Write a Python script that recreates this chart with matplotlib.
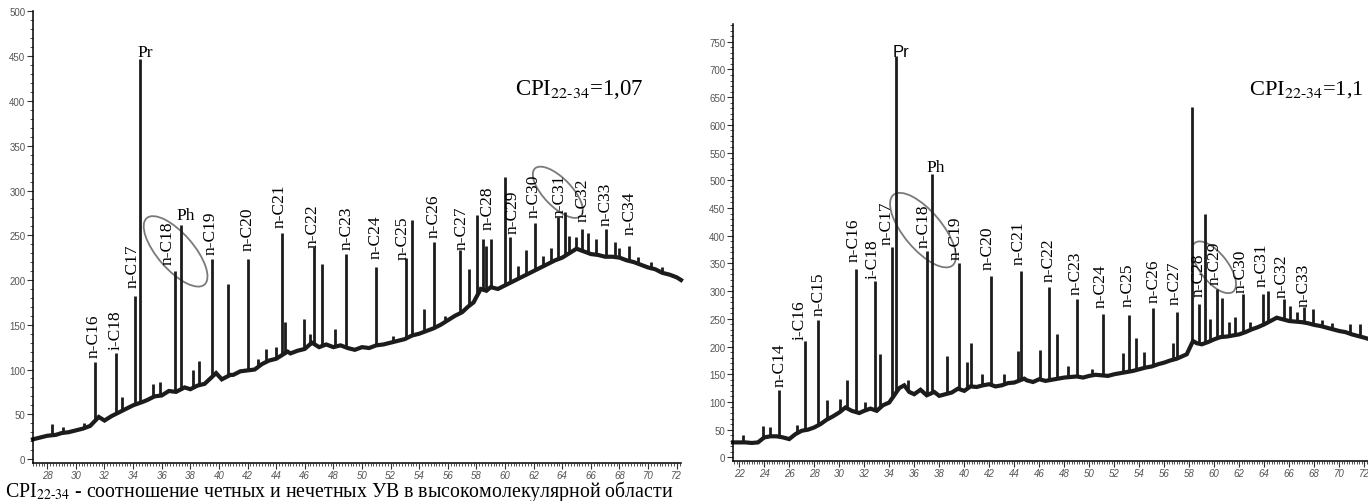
import matplotlib
matplotlib.use("Agg")
import matplotlib.pyplot as plt
import numpy as np
from matplotlib.patches import Ellipse
from matplotlib.transforms import ScaledTranslation
from matplotlib.ticker import MultipleLocator

# ---------------- left chromatogram ----------------
base1_x = [27.0, 27.5, 28.0, 28.6, 29.0, 29.5, 30.0, 30.5, 31.0, 31.6, 32.0, 32.5, 33.0, 33.5,
           34.0, 34.7, 35.0, 35.5, 36.0, 36.5, 37.0, 37.6, 38.0, 38.5, 39.0, 39.8, 40.2, 40.8,
           41.0, 41.5, 42.0, 42.5, 43.0, 43.5, 44.0, 44.8, 45.0, 45.5, 46.0, 46.5, 47.0, 47.5,
           48.0, 48.5, 49.0, 49.5, 50.0, 50.5, 51.0, 51.5, 52.0, 52.5, 53.0, 53.5, 54.0, 54.5,
           55.0, 55.5, 56.0, 56.5, 57.0, 57.4, 57.8, 58.3, 58.7, 59.0, 59.5, 60.0, 60.5, 61.0,
           61.5, 62.0, 62.5, 63.0, 63.5, 64.0, 64.5, 65.0, 65.5, 66.0, 66.5, 67.0, 67.5, 68.0,
           68.5, 69.0, 69.5, 70.0, 70.5, 71.0, 71.5, 72.0, 72.3]
base1_y = [22, 24, 26, 27, 29, 30, 32, 34, 37, 47, 43, 48, 52, 56, 60, 64, 66, 70, 71, 76, 75,
           80, 78, 82, 84, 96, 89, 94, 94, 98, 99, 100, 106, 110, 112, 120, 118, 121, 123, 130,
           125, 128, 125, 127, 124, 122, 125, 124, 127, 128, 130, 132, 134, 138, 140, 143, 146,
           150, 155, 160, 164, 170, 175, 190, 188, 192, 190, 194, 198, 202, 206, 210, 214, 218,
           222, 225, 230, 235, 232, 229, 228, 226, 226, 225, 222, 220, 217, 214, 212, 208, 206,
           203, 200]

peak1_x = [28.35, 29.1, 30.6, 31.36, 32.8, 33.2, 34.15, 34.48, 35.4, 35.9, 36.9, 37.32, 38.2,
           38.6, 39.54, 40.6, 42.03, 42.7, 43.3, 44.0, 44.43, 44.6, 45.92, 46.35, 46.64, 47.23,
           48.1, 48.9, 50.96, 52.2, 53.06, 53.5, 54.34, 55.01, 55.8, 56.83, 57.5, 58.06, 58.46,
           58.67, 59.05, 59.98, 60.38, 60.9, 61.5, 62.1, 62.64, 63.2, 63.7, 64.17, 64.5, 64.98,
           65.39, 65.8, 66.38, 67.04, 67.68, 68.0, 68.67, 69.3, 70.2, 71.0]
peak1_h = [39, 36, 40, 108, 118, 69, 182, 447, 84, 86, 210, 261, 100, 109, 223, 195, 224, 112,
           123, 125, 252, 153, 156, 140, 237, 218, 145, 229, 214, 138, 225, 267, 168, 242, 160,
           233, 212, 273, 246, 238, 246, 315, 248, 216, 233, 264, 227, 236, 270, 276, 249, 248,
           257, 253, 246, 257, 242, 236, 238, 226, 220, 214]

lab1_text = ["n-C16", "i-C18", "n-C17", "n-C18", "n-C19", "n-C20", "n-C21", "n-C22", "n-C23",
             "n-C24", "n-C25", "n-C26", "n-C27", "n-C28", "n-C29", "n-C30", "n-C31", "n-C32",
             "n-C33", "n-C34"]
lab1_x = [31.25, 32.75, 33.99, 36.43, 39.4, 42.03, 44.24, 46.57, 48.9, 50.98, 52.87, 54.97,
          56.95, 58.81, 60.56, 62.0, 63.83, 65.42, 67.04, 68.72]
lab1_y = [114, 123, 192, 218, 229, 233, 259, 237, 235, 225, 223, 248, 235, 257, 253, 270, 270,
          266, 261, 251]

# ---------------- right chromatogram ----------------
base2_x = [21.5, 22.0, 22.5, 23.0, 23.5, 24.0, 24.5, 25.0, 25.5, 26.0, 26.5, 27.0, 27.5, 28.0,
           28.5, 29.0, 29.5, 30.0, 30.5, 31.0, 31.6, 32.0, 32.5, 33.0, 33.5, 34.0, 34.8, 35.2,
           35.6, 36.0, 36.5, 37.0, 37.6, 38.0, 38.5, 39.0, 39.5, 40.0, 40.5, 41.0, 41.5, 42.0,
           42.5, 43.0, 43.5, 44.0, 44.8, 45.0, 45.5, 46.0, 46.5, 47.0, 47.5, 48.0, 48.5, 49.0,
           49.5, 50.0, 50.5, 51.0, 51.5, 52.0, 52.5, 53.0, 53.5, 54.0, 54.5, 55.0, 55.5, 56.0,
           56.5, 57.0, 57.5, 57.8, 58.3, 58.6, 59.0, 59.5, 60.0, 60.5, 61.0, 61.5, 62.0, 62.5,
           63.0, 63.5, 64.0, 64.5, 65.0, 65.5, 66.0, 66.5, 67.0, 67.5, 68.0, 68.5, 69.0, 69.5,
           70.0, 70.5, 71.0, 71.5, 72.0, 72.3]
base2_y = [27, 27, 27, 26, 27, 36, 38, 38, 36, 33, 42, 48, 50, 54, 60, 68, 74, 81, 90, 84, 80,
           84, 88, 84, 94, 99, 125, 130, 118, 114, 122, 112, 118, 111, 114, 117, 124, 120, 128,
           127, 130, 132, 128, 130, 134, 135, 142, 139, 136, 141, 138, 140, 142, 144, 145, 146,
           144, 147, 149, 148, 147, 150, 152, 154, 156, 159, 162, 164, 168, 171, 175, 178, 183,
           186, 210, 206, 204, 208, 213, 217, 218, 220, 222, 226, 231, 235, 240, 246, 252, 249,
           246, 245, 244, 242, 239, 237, 234, 231, 228, 226, 222, 219, 216, 214]

peak2_x = [22.3, 23.87, 24.46, 25.15, 26.6, 27.26, 28.32, 29.0, 30.1, 30.6, 31.31, 32.1, 32.86,
           33.26, 34.24, 34.51, 35.5, 36.99, 37.39, 38.6, 39.6, 40.2, 40.54, 41.4, 42.14, 43.2,
           44.3, 44.51, 46.06, 46.8, 47.39, 48.3, 49.04, 50.2, 51.12, 52.72, 53.15, 53.71, 54.38,
           55.12, 56.7, 56.99, 58.24, 58.8, 59.26, 59.7, 60.19, 60.59, 61.2, 61.66, 62.27, 62.9,
           63.93, 64.33, 65.58, 66.06, 66.6, 67.18, 67.87, 68.6, 69.4, 70.86, 71.66]
peak2_h = [40, 56, 55, 122, 58, 210, 248, 103, 105, 139, 340, 100, 319, 186, 379, 724, 140, 373,
           511, 183, 351, 172, 206, 150, 328, 150, 192, 337, 194, 308, 222, 165, 286, 160, 259,
           188, 257, 215, 190, 269, 207, 262, 632, 277, 439, 250, 304, 287, 245, 253, 295, 245,
           295, 301, 286, 274, 262, 271, 268, 248, 242, 241, 241]

lab2_text = ["n-C14", "i-C16", "n-C15", "n-C16", "i-C18", "n-C17", "n-C18", "n-C19", "n-C20",
             "n-C21", "n-C22", "n-C23", "n-C24", "n-C25", "n-C26", "n-C27", "n-C28", "n-C29",
             "n-C30", "n-C31", "n-C32", "n-C33"]
lab2_x = [25.2, 26.86, 28.32, 31.12, 32.67, 33.79, 36.72, 39.34, 41.9, 44.32, 46.72, 48.94,
          50.91, 53.04, 55.12, 56.86, 58.72, 60.06, 62.13, 63.79, 65.39, 67.12]
lab2_y = [129, 213, 256, 355, 323, 385, 379, 358, 340, 349, 319, 295, 271, 274, 280, 277, 292,
          313, 298, 310, 289, 274]

caption = "CPI$_{22\u201034}$ - соотношение четных и нечетных УВ в высокомолекулярной области"

ink = "#1c1c1c"
serif = "Liberation Serif"

fig = plt.figure(figsize=(13.68, 5.02), dpi=100)
ax1 = fig.add_axes([0.0241, 0.0765, 0.4737, 0.8986])
ax2 = fig.add_axes([0.5358, 0.0803, 0.4642, 0.8699])


def draw_trace(ax, bx, by, px, ph):
    ax.plot(bx, by, color=ink, lw=3.0, solid_joinstyle="miter", clip_on=False)
    foot = np.interp(px, bx, by)
    ax.vlines(px, foot, ph, color=ink, lw=2.0)


def style_axes(ax, xlim, ylim, xmaj, ymaj):
    ax.set_xlim(*xlim)
    ax.set_ylim(*ylim)
    for s in ["top", "right"]:
        ax.spines[s].set_visible(False)
    for s in ["left", "bottom"]:
        ax.spines[s].set_linewidth(1.1)
    ax.xaxis.set_major_locator(MultipleLocator(xmaj))
    ax.xaxis.set_minor_locator(MultipleLocator(0.2))
    ax.yaxis.set_major_locator(MultipleLocator(ymaj))
    ax.yaxis.set_minor_locator(MultipleLocator(10))
    ax.tick_params(which="major", length=4, width=0.8, color="#333333",
                   labelsize=7, labelcolor="#555555", pad=1.5)
    ax.tick_params(which="minor", length=2.2, width=0.6, color="#333333")
    for t in ax.get_xticklabels():
        t.set_fontfamily("Liberation Sans")
        t.set_fontstyle("italic")
    for t in ax.get_yticklabels():
        t.set_fontfamily("Liberation Sans")


def add_ellipse(ax, cx, cy, w, h, ang):
    tr = fig.dpi_scale_trans + ScaledTranslation(cx, cy, ax.transData)
    ax.add_patch(Ellipse((0, 0), w, h, angle=ang, transform=tr, fill=False,
                         edgecolor="#7a7a7a", lw=1.3, clip_on=False))


# left panel
draw_trace(ax1, base1_x, base1_y, peak1_x, peak1_h)
style_axes(ax1, (27, 72.3), (-4, 500), 2, 50)
for t, x, y in zip(lab1_text, lab1_x, lab1_y):
    ax1.text(x, y, t, rotation=90, ha="center", va="bottom", fontsize=12.5, family=serif)
ax1.text(34.86, 450, "Pr", ha="center", va="baseline", fontsize=12.5, family=serif)
ax1.text(37.65, 268, "Ph", ha="center", va="baseline", fontsize=12.5, family=serif)
ax1.text(60.68, 408, "CPI$_{22\u201034}$=1,07", fontsize=16.5, family=serif, va="baseline",
         math_fontfamily="stix")
add_ellipse(ax1, 36.97, 232, 0.88, 0.36, -49)
add_ellipse(ax1, 63.69, 298, 0.66, 0.28, -46)

# right panel
draw_trace(ax2, base2_x, base2_y, peak2_x, peak2_h)
style_axes(ax2, (21.5, 72.3), (-6, 782), 2, 50)
for t, x, y in zip(lab2_text, lab2_x, lab2_y):
    ax2.text(x, y, t, rotation=90, ha="center", va="bottom", fontsize=12.5, family=serif)
ax2.text(34.94, 724, "Pr", ha="center", va="baseline", fontsize=12, family="Liberation Sans")
ax2.text(37.74, 517, "Ph", ha="center", va="baseline", fontsize=12.5, family=serif)
ax2.text(62.8, 656, "CPI$_{22\u201034}$=1,1", fontsize=16.2, family=serif, va="baseline",
         math_fontfamily="stix", clip_on=False)
add_ellipse(ax2, 36.7, 410, 0.92, 0.38, -50)
add_ellipse(ax2, 59.98, 343, 0.62, 0.28, -52)

fig.text(5 / 1368, 1 - 497 / 502, caption, fontsize=14.3, family=serif, va="baseline",
         math_fontfamily="stix")

fig.savefig("out.png", dpi=100)
